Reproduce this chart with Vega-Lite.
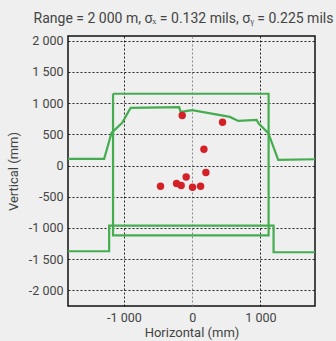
{
  "$schema": "https://vega.github.io/schema/vega-lite/v6.json",
  "autosize": {"type": "none"},
  "width": 247,
  "height": 270,
  "padding": {"left": 68, "top": 36, "right": 21, "bottom": 35},
  "background": "#eeefee",
  "title": {
    "text": "Range = 2 000 m, σₓ = 0.132 mils, σᵧ = 0.225 mils",
    "font": "Roboto",
    "fontSize": 14,
    "fontWeight": "normal",
    "color": "#444444",
    "anchor": "middle",
    "offset": 9,
    "dx": -8
  },
  "config": {
    "locale": {"number": {"decimal": ".", "thousands": " ", "grouping": [3], "currency": ["", ""], "minus": "-"}},
    "view": {"stroke": "#111111", "strokeWidth": 1.5, "fill": "#eeefee"},
    "axis": {
      "labelFont": "Roboto",
      "labelFontSize": 12.5,
      "labelColor": "#444444",
      "labelFlush": false,
      "titleFont": "Roboto",
      "titleFontSize": 13,
      "titleFontWeight": "normal",
      "titleColor": "#444444",
      "ticks": false,
      "domain": false,
      "grid": true,
      "gridColor": "#000000",
      "gridDash": [2, 2],
      "gridWidth": 1,
      "gridOpacity": 0.85
    }
  },
  "datasets": {
    "shots": [
      {"h": -146, "v": 801},
      {"h": 445, "v": 694},
      {"h": 172, "v": 261},
      {"h": 201, "v": -112},
      {"h": -88, "v": -183},
      {"h": -464, "v": -332},
      {"h": -229, "v": -289},
      {"h": -161, "v": -321},
      {"h": 5, "v": -348},
      {"h": 123, "v": -332}
    ],
    "lines": [
      {"id": "upper", "o": 1, "h": -1820, "v": 106},
      {"id": "upper", "o": 2, "h": -1290, "v": 106},
      {"id": "upper", "o": 3, "h": -1182, "v": 522},
      {"id": "upper", "o": 4, "h": -1026, "v": 683},
      {"id": "upper", "o": 5, "h": -903, "v": 923},
      {"id": "upper", "o": 6, "h": -190, "v": 934},
      {"id": "upper", "o": 7, "h": -170, "v": 859},
      {"id": "upper", "o": 8, "h": 0, "v": 886},
      {"id": "upper", "o": 9, "h": 553, "v": 779},
      {"id": "upper", "o": 10, "h": 675, "v": 715},
      {"id": "upper", "o": 11, "h": 944, "v": 731},
      {"id": "upper", "o": 12, "h": 978, "v": 667},
      {"id": "upper", "o": 13, "h": 1114, "v": 522},
      {"id": "upper", "o": 14, "h": 1261, "v": 90},
      {"id": "upper", "o": 15, "h": 1800, "v": 101},
      {"id": "lower", "o": 1, "h": -1820, "v": -1373},
      {"id": "lower", "o": 2, "h": -1217, "v": -1373},
      {"id": "lower", "o": 3, "h": -1217, "v": -962},
      {"id": "lower", "o": 4, "h": 1193, "v": -962},
      {"id": "lower", "o": 5, "h": 1193, "v": -1389},
      {"id": "lower", "o": 6, "h": 1800, "v": -1389},
      {"id": "square", "o": 1, "h": -1160, "v": 1150},
      {"id": "square", "o": 2, "h": 1120, "v": 1150},
      {"id": "square", "o": 3, "h": 1120, "v": -1120},
      {"id": "square", "o": 4, "h": -1160, "v": -1120},
      {"id": "square", "o": 5, "h": -1160, "v": 1150}
    ]
  },
  "encoding": {
    "x": {
      "field": "h", "type": "quantitative",
      "scale": {"domain": [-1820, 1800], "nice": false, "zero": false},
      "axis": {
        "values": [-1000, 0, 1000],
        "format": ",d",
        "title": "Horizontal (mm)",
        "labelPadding": 5,
        "titlePadding": 3,
        "labelOverlap": false,
        "gridColor": {"condition": {"test": "datum.value === 0", "value": "#777777"}, "value": "#000000"}
      }
    },
    "y": {
      "field": "v", "type": "quantitative",
      "scale": {"domain": [-2250, 2075], "nice": false, "zero": false},
      "axis": {
        "values": [-2000, -1500, -1000, -500, 0, 500, 1000, 1500, 2000],
        "format": ",d",
        "title": "Vertical (mm)",
        "labelPadding": 5,
        "titlePadding": 8,
        "labelOverlap": false
      }
    }
  },
  "layer": [
    {
      "data": {"name": "lines"},
      "mark": {"type": "line", "color": "#45ad4f", "strokeWidth": 2.2, "clip": true},
      "encoding": {
        "order": {"field": "o", "type": "quantitative"},
        "detail": {"field": "id", "type": "nominal"}
      }
    },
    {
      "data": {"name": "shots"},
      "mark": {"type": "circle", "color": "#d42127", "opacity": 1, "size": 55}
    }
  ]
}
